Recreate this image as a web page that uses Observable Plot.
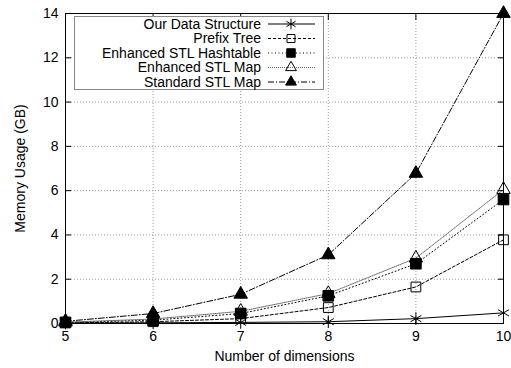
<!DOCTYPE html>
<html>
<head>
<meta charset="utf-8">
<script src="https://cdn.jsdelivr.net/npm/d3@7"></script>
<script src="https://cdn.jsdelivr.net/npm/@observablehq/plot@0.6"></script>
<style>
  html, body { margin: 0; padding: 0; background: #fff; }
  #chart { width: 511px; height: 368px; }
</style>
</head>
<body>
<div id="chart"></div>
<script>
const dims = [5, 6, 7, 8, 9, 10];
const seriesNames = ["Our Data Structure", "Prefix Tree", "Enhanced STL Hashtable", "Enhanced STL Map", "Standard STL Map"];
const ourData = [0.02, 0.03, 0.05, 0.08, 0.22, 0.48];
const prefixTree = [0.03, 0.08, 0.22, 0.72, 1.65, 3.78];
const enhancedHashtable = [0.05, 0.15, 0.45, 1.25, 2.7, 5.6];
const enhancedMap = [0.06, 0.2, 0.55, 1.35, 2.95, 6.05];
const standardMap = [0.1, 0.45, 1.32, 3.1, 6.78, 14.0];
const yTicks = [0, 2, 4, 6, 8, 10, 12, 14];
const xTicks = [5, 6, 7, 8, 9, 10];

const seriesValues = [ourData, prefixTree, enhancedHashtable, enhancedMap, standardMap];
const styles = [
  {dash: null, stroke: "#000", symbol: "asterisk", fill: "none", r: 6, lr: 5},
  {dash: "3,2", stroke: "#000", symbol: "square", fill: "none", r: 5.5, lr: 4.5},
  {dash: "1,2.5", stroke: "#000", symbol: "square", fill: "#000", r: 6, lr: 4.8},
  {dash: "1,1", stroke: "#666", symbol: "triangle", fill: "none", r: 5, lr: 4},
  {dash: "6,2,1,2", stroke: "#000", symbol: "triangle", fill: "#000", r: 5, lr: 4}
];

const rows = [];
seriesNames.forEach((name, i) => {
  dims.forEach((d, j) => rows.push({series: name, idx: i, dim: d, value: seriesValues[i][j]}));
});

const marks = [
  Plot.gridX(xTicks, {stroke: "#999", strokeOpacity: 1, strokeDasharray: "1,2"}),
  Plot.gridY(yTicks, {stroke: "#999", strokeOpacity: 1, strokeDasharray: "1,2"}),
];
seriesNames.forEach((name, i) => {
  const data = rows.filter(r => r.idx === i);
  const s = styles[i];
  marks.push(Plot.line(data, {x: "dim", y: "value", stroke: s.stroke, strokeWidth: 1, strokeDasharray: s.dash}));
});
seriesNames.forEach((name, i) => {
  const data = rows.filter(r => r.idx === i);
  const s = styles[i];
  marks.push(Plot.dot(data, {x: "dim", y: "value", symbol: () => s.symbol, r: s.r, stroke: "#000", strokeWidth: 1, fill: s.fill}));
});
marks.push(
  Plot.axisX(xTicks, {anchor: "bottom", tickSize: 0, tickPadding: 8, label: "Number of dimensions", labelAnchor: "center", labelArrow: "none", labelOffset: 37}),
  Plot.axisX(xTicks, {anchor: "bottom", tickSize: -6, tickFormat: () => "", label: null}),
  Plot.axisX(xTicks, {anchor: "top", tickSize: -6, tickFormat: () => "", label: null}),
  Plot.axisY(yTicks, {anchor: "left", tickSize: 0, tickPadding: 7, label: "Memory Usage (GB)", labelAnchor: "center", labelArrow: "none", labelOffset: 50}),
  Plot.axisY(yTicks, {anchor: "left", tickSize: -6, tickFormat: () => "", label: null}),
  Plot.axisY(yTicks, {anchor: "right", tickSize: -6, tickFormat: () => "", label: null}),
  Plot.frame({stroke: "#000", strokeWidth: 1})
);

const chart = Plot.plot({
  width: 511,
  height: 368,
  marginLeft: 65,
  marginRight: 8,
  marginTop: 13,
  marginBottom: 45,
  style: {fontFamily: "'Liberation Sans', Arial, sans-serif", fontSize: "14px", color: "#000", background: "#fff"},
  x: {domain: [5, 10]},
  y: {domain: [0, 14]},
  marks
});

// Legend box inside plot area (top-left)
const svg = d3.select(chart);
const lg = svg.append("g").attr("font-family", "'Liberation Sans', Arial, sans-serif").attr("font-size", 14);
lg.append("rect").attr("x", 74.5).attr("y", 16.5).attr("width", 249).attr("height", 73)
  .attr("fill", "#fff").attr("stroke", "#888").attr("stroke-width", 1);
seriesNames.forEach((name, i) => {
  const s = styles[i];
  const cy = 24 + i * 14.5;
  lg.append("text").attr("x", 261).attr("y", cy).attr("dy", "0.35em").attr("text-anchor", "end").attr("fill", "#000").text(name);
  lg.append("line").attr("x1", 268).attr("x2", 315).attr("y1", cy).attr("y2", cy)
    .attr("stroke", s.stroke).attr("stroke-width", 1)
    .attr("stroke-dasharray", s.dash);
  const symType = {asterisk: d3.symbolAsterisk, square: d3.symbolSquare, triangle: d3.symbolTriangle}[s.symbol];
  lg.append("path").attr("transform", `translate(291,${cy})`)
    .attr("d", d3.symbol(symType, Math.PI * s.lr * s.lr)())
    .attr("fill", s.fill).attr("stroke", "#000").attr("stroke-width", 1);
});

document.getElementById("chart").appendChild(chart);
</script>
</body>
</html>
